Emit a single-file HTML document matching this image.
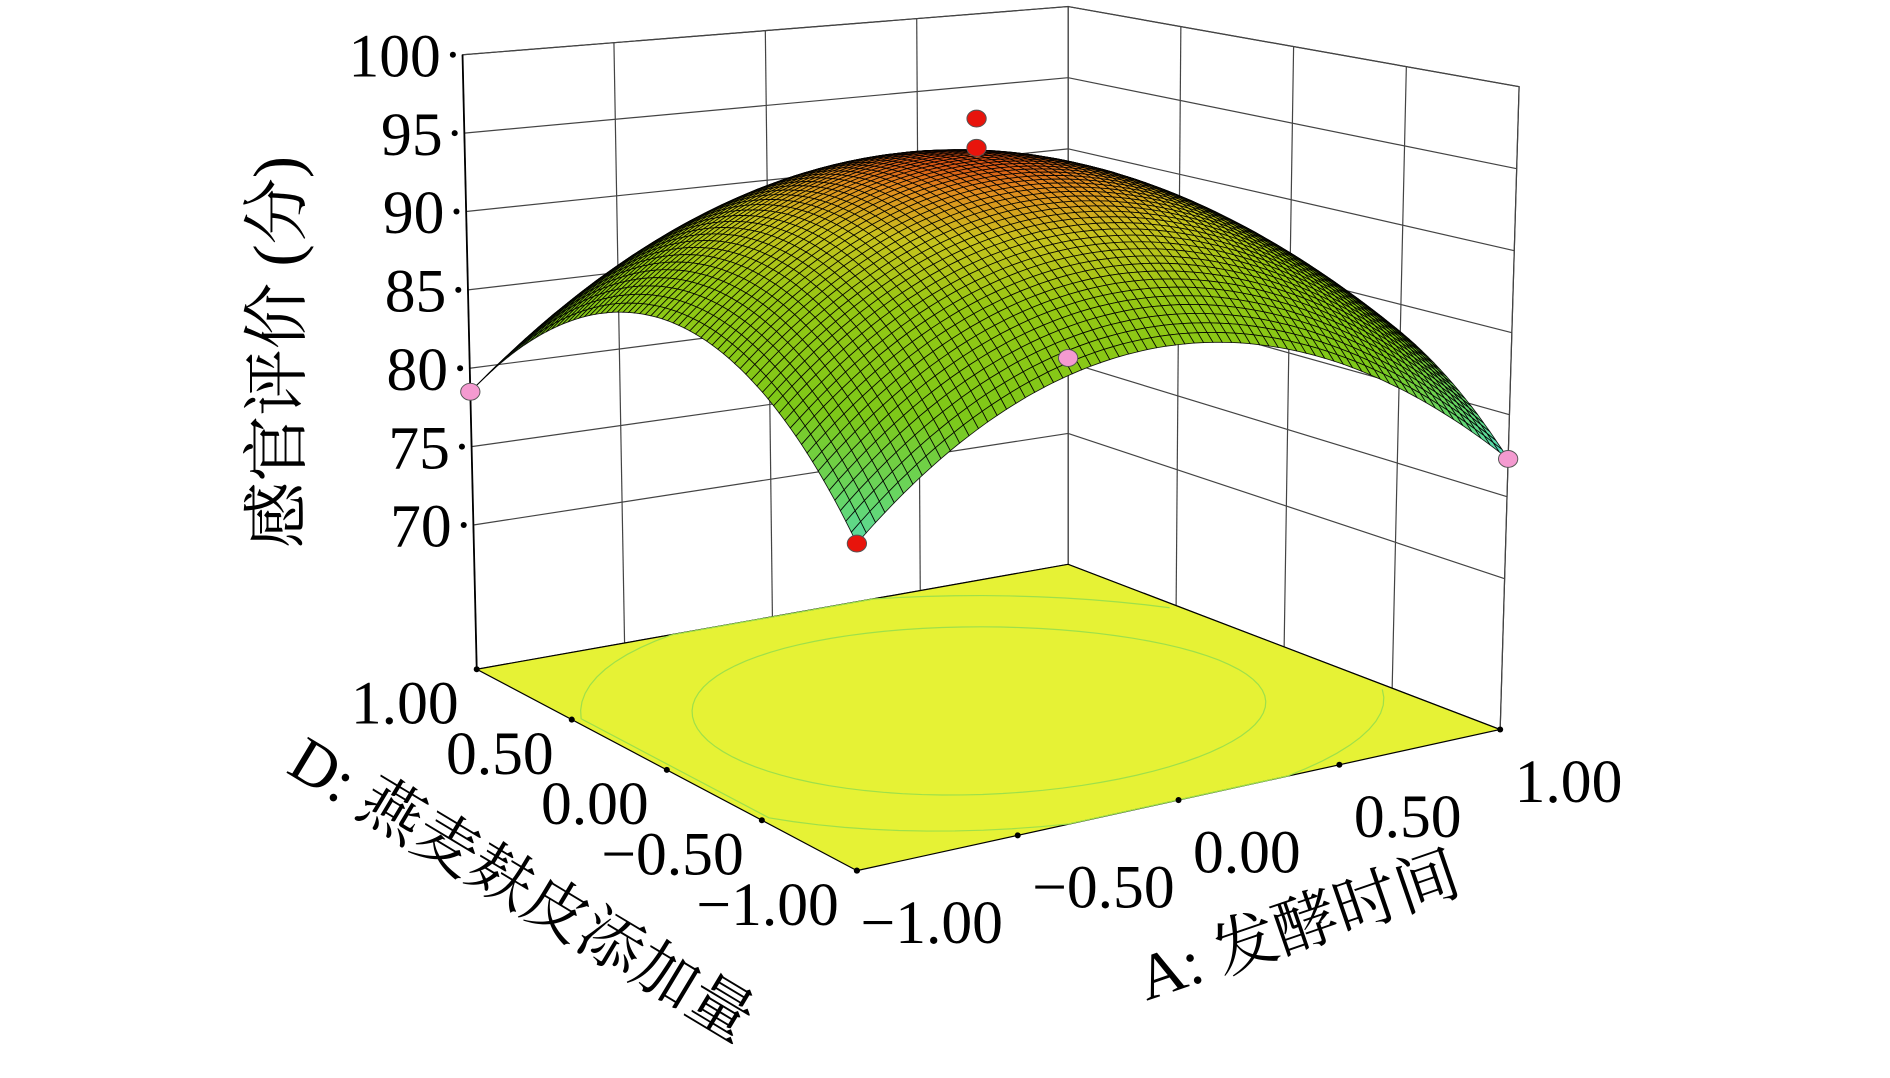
<!DOCTYPE html>
<html><head><meta charset="utf-8"><style>
html,body{margin:0;padding:0;background:#fff;}
svg{display:block;}
text{font-family:"Liberation Serif","Noto Serif CJK SC","Noto Sans CJK SC",serif;fill:#000;}
</style></head><body>
<svg id="chart" width="1890" height="1078" viewBox="0 0 1566 894" preserveAspectRatio="none" xmlns="http://www.w3.org/2000/svg">
<g id="walls"></g>
<g id="floor"></g>
<g id="surface"></g>
<g id="points"></g>
<g id="labels"></g>
<text transform="translate(248,292) rotate(-90)" text-anchor="middle" font-size="55">感官评价 (分)</text>
<text transform="translate(236,640) rotate(31)" font-size="53">D: 燕麦麸皮添加量</text>
<text transform="translate(950,830) rotate(-19)" font-size="53">A: 发酵时间</text>
</svg>
<script>
const zTicks = [70, 75, 80, 85, 90, 95, 100];
const aTicks = [-1, -0.5, 0, 0.5, 1];
const dTicks = [-1, -0.5, 0, 0.5, 1];
const aTickLabels = ["\u22121.00", "\u22120.50", "0.00", "0.50", "1.00"];
const dTickLabels = ["\u22121.00", "\u22120.50", "0.00", "0.50", "1.00"];
// quadratic model coefficients: b0, A, D, A^2, D^2, AD
const modelCoef = [95.0, -1.05, -0.45, -9.0, -8.65, -0.55];
const pointA = [-1, -1, 1, 1, 0, 0];
const pointD = [-1, 1, 1, -1, 0, 0];
const pointZ = [78.3, 78.5, 75.3, 77.3, 97.1, 95.3];
const pointColor = ["#e8140c", "#f49ad0", "#f49ad0", "#f49ad0", "#e8140c", "#e8140c"];

const NS = "http://www.w3.org/2000/svg";
const Z0 = 60.8;
const C = {c00:[710,722], c10:[1243,605], c01:[395,555], c11:[885,468]};
const S = {s00:15.5, s10:13.6, s01:13, s11:11.8};
const K = {k00:0, k10:0.4, k01:-0.3, k11:0};
function bil(a,b,c,d,u,v){return a*(1-u)*(1-v)+b*u*(1-v)+c*(1-u)*v+d*u*v;}
function P(A,D,z){
  const u=(A+1)/2, v=(D+1)/2;
  const x=bil(C.c00[0],C.c10[0],C.c01[0],C.c11[0],u,v);
  const y=bil(C.c00[1],C.c10[1],C.c01[1],C.c11[1],u,v);
  const s=bil(S.s00,S.s10,S.s01,S.s11,u,v);
  const k=bil(K.k00,K.k10,K.k01,K.k11,u,v);
  return [x+k*(z-Z0), y-s*(z-Z0)];
}
function model(A,D){const c=modelCoef;return c[0]+c[1]*A+c[2]*D+c[3]*A*A+c[4]*D*D+c[5]*A*D;}
function el(tag,attrs,parent){const e=document.createElementNS(NS,tag);for(const k in attrs)e.setAttribute(k,attrs[k]);parent.appendChild(e);return e;}
function line(p,q,parent,stroke,w){return el("line",{x1:p[0],y1:p[1],x2:q[0],y2:q[1],stroke:stroke,"stroke-width":w},parent);}
const walls=document.getElementById("walls");
const zTop=100;
const wallD=[P(-1,1,Z0),P(1,1,Z0),P(1,1,zTop),P(-1,1,zTop)];
const wallA=[P(1,1,Z0),P(1,-1,Z0),P(1,-1,zTop),P(1,1,zTop)];
[wallD,wallA].forEach(w=>{
  const pg=el("polygon",{points:w.map(p=>p.join(",")).join(" "),fill:"#fff",stroke:"#333","stroke-width":1},walls);
  
  
});
zTicks.forEach(z=>{
  const l1=line(P(-1,1,z),P(1,1,z),walls,"#444",1);
  
  
  const l2=line(P(1,1,z),P(1,-1,z),walls,"#444",1);
  
  
});
aTicks.forEach(a=>{const l=line(P(a,1,Z0),P(a,1,zTop),walls,"#444",1);
  
  });
dTicks.forEach(d=>{const l=line(P(1,d,Z0),P(1,d,zTop),walls,"#444",1);
  
  });
const zAxis=line(P(-1,1,Z0),P(-1,1,zTop),walls,"#000",1.5);


const floor=document.getElementById("floor");
const fl=[P(-1,-1,Z0),P(1,-1,Z0),P(1,1,Z0),P(-1,1,Z0)];
const fp=el("polygon",{points:fl.map(p=>p.join(",")).join(" "),fill:"#e6f235",stroke:"#000","stroke-width":1},floor);


[0.75,1.05].forEach(r=>{
  const pts=[];for(let i=0;i<=90;i++){const t=i/90*Math.PI*2;const a=r*Math.cos(t)*1.05,d=r*Math.sin(t);if(Math.abs(a)<=1&&Math.abs(d)<=1)pts.push(P(a,d,Z0).join(","));}
  const c=el("polyline",{points:pts.join(" "),fill:"none",stroke:"#9ee04a","stroke-width":1},floor);
  
  
});
const surf=document.getElementById("surface");
const stops=[[74,[40,90,230]],[77,[80,220,210]],[80,[100,215,110]],[84,[125,200,25]],[89,[150,200,20]],[92,[200,195,30]],[94,[225,140,30]],[95,[215,80,20]]];
function col(z){if(z<=stops[0][0])return stops[0][1];for(let i=1;i<stops.length;i++){if(z<=stops[i][0]){const t=(z-stops[i-1][0])/(stops[i][0]-stops[i-1][0]);return stops[i-1][1].map((c,j)=>Math.round(c+(stops[i][1][j]-c)*t));}}return stops[stops.length-1][1];}
const N=70;const quads=[];
for(let i=0;i<N;i++)for(let j=0;j<N;j++){
  const a0=-1+2*i/N,a1=-1+2*(i+1)/N,d0=-1+2*j/N,d1=-1+2*(j+1)/N;
  const zz=[model(a0,d0),model(a1,d0),model(a1,d1),model(a0,d1)];
  quads.push({depth:(a0+a1)+(d0+d1),pts:[P(a0,d0,zz[0]),P(a1,d0,zz[1]),P(a1,d1,zz[2]),P(a0,d1,zz[3])],z:(zz[0]+zz[1]+zz[2]+zz[3])/4});
}
quads.sort((p,q)=>q.depth-p.depth);
quads.forEach(q=>{const c=col(q.z);
  const pg=el("polygon",{points:q.pts.map(p=>p[0].toFixed(1)+","+p[1].toFixed(1)).join(" "),fill:`rgb(${c})`,stroke:"#000","stroke-width":0.7,"stroke-opacity":0.9},surf);
  
  
});
const pts=document.getElementById("points");
pointA.forEach((a,i)=>{const p=P(a,pointD[i],pointZ[i]);
  const c=el("ellipse",{cx:p[0],cy:p[1],rx:8,ry:7,fill:pointColor[i],stroke:"#555","stroke-width":0.8},pts);
  
  
});
const lab=document.getElementById("labels");
zTicks.forEach(z=>{const p=P(-1,1,z);
  const d=el("circle",{cx:p[0]-8,cy:p[1],r:2.5,fill:"#000"},lab);
  
  
  const t=el("text",{x:p[0]-18,y:p[1]+18,"text-anchor":"end","font-size":51},lab);t.textContent=String(z);
  
  
});
dTicks.forEach((d,i)=>{const p=P(-1,d,Z0);
  const m=el("circle",{cx:p[0],cy:p[1],r:2.5,fill:"#000"},lab);
  
  
  const t=el("text",{x:p[0]-15,y:p[1]+45,"text-anchor":"end","font-size":51},lab);t.textContent=dTickLabels[i];
  
  
});
aTicks.forEach((a,i)=>{const p=P(a,-1,Z0);
  const m=el("circle",{cx:p[0],cy:p[1],r:2.5,fill:"#000"},lab);
  
  
  const t=el("text",{x:p[0]+(i==0?3:12),y:p[1]+60,"text-anchor":"start","font-size":51},lab);t.textContent=aTickLabels[i];
  
  
});
</script>
</body></html>
